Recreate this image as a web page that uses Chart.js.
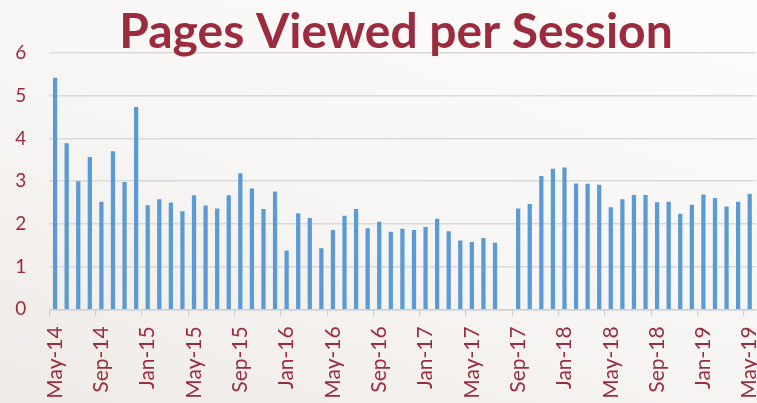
<!DOCTYPE html>
<html>
<head>
<meta charset="utf-8">
<script src="https://cdn.jsdelivr.net/npm/chart.js@4"></script>
<style>
  html, body { margin: 0; padding: 0; }
  body {
    width: 757px; height: 403px; overflow: hidden;
    background: linear-gradient(200deg, #fdfcfb 0%, #f7f5f3 55%, #eeeae6 100%);
  }
  #wrap { position: relative; width: 757px; height: 403px; }
  canvas { display: block; }
</style>
</head>
<body>
<div id="wrap"><canvas id="c" width="757" height="403"></canvas></div>
<script>
const chartTitle = "Pages Viewed per Session";

const months = [
  "May-14","Jun-14","Jul-14","Aug-14","Sep-14","Oct-14","Nov-14","Dec-14",
  "Jan-15","Feb-15","Mar-15","Apr-15","May-15","Jun-15","Jul-15","Aug-15","Sep-15","Oct-15","Nov-15","Dec-15",
  "Jan-16","Feb-16","Mar-16","Apr-16","May-16","Jun-16","Jul-16","Aug-16","Sep-16","Oct-16","Nov-16","Dec-16",
  "Jan-17","Feb-17","Mar-17","Apr-17","May-17","Jun-17","Jul-17","Aug-17","Sep-17","Oct-17","Nov-17","Dec-17",
  "Jan-18","Feb-18","Mar-18","Apr-18","May-18","Jun-18","Jul-18","Aug-18","Sep-18","Oct-18","Nov-18","Dec-18",
  "Jan-19","Feb-19","Mar-19","Apr-19","May-19"
];

const pagesPerSession = [
  5.41, 3.88, 2.99, 3.56, 2.51, 3.69, 2.97, 4.73,
  2.43, 2.57, 2.49, 2.29, 2.66, 2.42, 2.35, 2.66, 3.18, 2.82, 2.34, 2.75,
  1.37, 2.24, 2.13, 1.42, 1.85, 2.18, 2.34, 1.89, 2.04, 1.81, 1.88, 1.85,
  1.92, 2.11, 1.82, 1.60, 1.57, 1.66, 1.55, null, 2.35, 2.46, 3.11, 3.28,
  3.31, 2.94, 2.93, 2.91, 2.38, 2.57, 2.67, 2.67, 2.50, 2.51, 2.23, 2.44,
  2.68, 2.60, 2.40, 2.51, 2.70
];

const yTicks = [0, 1, 2, 3, 4, 5, 6];
const labelEvery = 4;

const red = "#9b2b3e";
const blue = "#5b9bd5";
const grid = "#d9d9d9";

const titlePlugin = {
  id: "overlayTitle",
  afterDraw(chart) {
    const ctx = chart.ctx;
    ctx.save();
    ctx.font = "bold 48px Lato";
    ctx.fillStyle = red;
    ctx.textAlign = "center";
    ctx.textBaseline = "alphabetic";
    ctx.fillText(chartTitle, 396, 48);
    ctx.restore();
  }
};

new Chart(document.getElementById("c"), {
  type: "bar",
  data: {
    labels: months,
    datasets: [{
      data: pagesPerSession,
      backgroundColor: blue,
      borderWidth: 0,
      barThickness: 3.6
    }]
  },
  options: {
    responsive: false,
    animation: false,
    devicePixelRatio: 1,
    layout: { padding: { top: 53, right: 1.5, left: 0, bottom: 0 } },
    plugins: { legend: { display: false }, tooltip: { enabled: false }, title: { display: false } },
    scales: {
      x: {
        offset: true,
        grid: {
          offset: true,
          drawOnChartArea: false,
          drawTicks: true,
          tickLength: 7,
          lineWidth: 1.2,
          color: (ctx) => (ctx.index % labelEvery === 0 ? "#cfcfcf" : "rgba(0,0,0,0)")
        },
        border: { display: true, color: "#cfcfcf", width: 1.5 },
        ticks: {
          autoSkip: false,
          minRotation: 90,
          maxRotation: 90,
          padding: 10,
          color: red,
          font: { family: "Lato", size: 21 },
          callback: (v, i) => (i % labelEvery === 0 ? months[i] : "")
        },
        afterFit: (s) => { s.height = 93.7; s.paddingLeft = 0; s.paddingRight = 0; }
      },
      y: {
        min: 0,
        max: 6,
        afterBuildTicks: (s) => { s.ticks = yTicks.map(v => ({ value: v })); },
        grid: { color: grid, lineWidth: 1.5, drawTicks: false },
        border: { display: false },
        ticks: {
          padding: 23,
          color: red,
          font: { family: "Lato", size: 19 }
        },
        afterFit: (s) => { s.width = 49.3; s.paddingTop = 0; s.paddingBottom = 0; }
      }
    }
  },
  plugins: [titlePlugin]
});
</script>
</body>
</html>
